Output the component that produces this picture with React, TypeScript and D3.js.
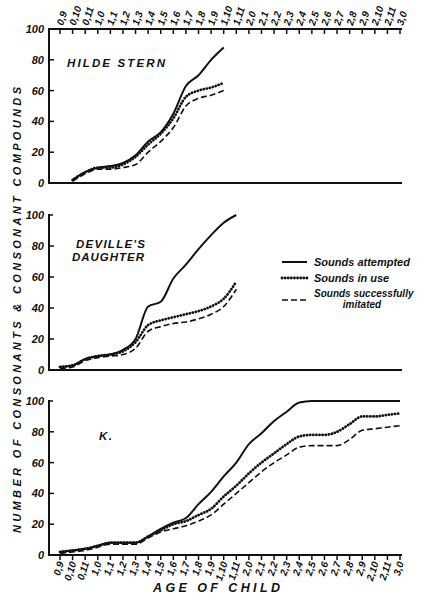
import React from "react";
import * as d3 from "d3";

const AGE_LABELS = ["0,9","0,10","0,11","1,0","1,1","1,2","1,3","1,4","1,5","1,6","1,7","1,8","1,9","1,10","1,11","2,0","2,1","2,2","2,3","2,4","2,5","2,6","2,7","2,8","2,9","2,10","2,11","3,0"];
const AGE_MONTHS = AGE_LABELS.map((l) => { const [y, m] = l.split(",").map(Number); return y * 12 + m; });
const Y_TICKS = [0, 20, 40, 60, 80, 100];

// Hilde Stern: months 10..22
const HILDE_MONTHS = [10,11,12,13,14,15,16,17,18,19,20,21,22];
const HILDE_ATTEMPTED = [2,7,10,11,13,18,27,33,45,63,70,80,88];
const HILDE_IN_USE = [2,7,10,10,12,17,25,32,42,56,60,62,65];
const HILDE_IMITATED = [1,6,9,9,10,12,20,27,36,50,55,57,60];

// Deville's daughter: months 9..23
const DEVILLE_MONTHS = [9,10,11,12,13,14,15,16,17,18,19,20,21,22,23];
const DEVILLE_ATTEMPTED = [2,3,7,9,10,13,20,41,44,59,68,78,87,95,100];
const DEVILLE_IN_USE = [2,3,7,9,10,12,18,29,32,34,36,38,41,46,57];
const DEVILLE_IMITATED = [1,2,6,8,9,10,14,25,28,30,31,33,36,41,52];

// K.: months 9..36
const K_MONTHS = [9,10,11,12,13,14,15,16,17,18,19,20,21,22,23,24,25,26,27,28,29,30,31,32,33,34,35,36];
const K_ATTEMPTED = [2,3,4,6,8,8,8,12,17,21,24,33,41,51,60,72,79,87,93,99,100,100,100,100,100,100,100,100];
const K_IN_USE = [2,3,4,6,8,8,8,12,16,20,22,26,30,38,45,53,60,66,72,77,78,78,80,85,90,90,91,92];
const K_IMITATED = [1,2,3,5,7,7,7,11,15,17,19,22,26,33,40,47,54,60,65,70,71,71,71,75,81,82,83,84];

const SERIES_NAMES = ["Sounds attempted", "Sounds in use", "Sounds successfully imitated"];

const FONT = "'Liberation Sans', Arial, sans-serif";
const INK = "#111";

const x = d3.scaleLinear().domain([9, 36]).range([60, 400]);
const AXIS_X = 49;
const AXIS_END = 402;

const STYLES = [
  { dash: "none", width: 2, cap: "butt" },
  { dash: "0.1 3", width: 2.8, cap: "round" },
  { dash: "6 3", width: 1.6, cap: "butt" },
];

type Panel = {
  label: string[];
  labelX: number;
  labelY: number;
  labelLen: number[];
  months: number[];
  series: number[][];
  range: [number, number];
};

const PANELS: Panel[] = [
  { label: ["HILDE STERN"], labelX: 67, labelY: 67, labelLen: [98], months: HILDE_MONTHS, series: [HILDE_ATTEMPTED, HILDE_IN_USE, HILDE_IMITATED], range: [183, 29] },
  { label: ["DEVILLE'S", "DAUGHTER"], labelX: 76, labelY: 248, labelLen: [69, 72], months: DEVILLE_MONTHS, series: [DEVILLE_ATTEMPTED, DEVILLE_IN_USE, DEVILLE_IMITATED], range: [370, 215] },
  { label: ["K."], labelX: 99, labelY: 440, labelLen: [13], months: K_MONTHS, series: [K_ATTEMPTED, K_IN_USE, K_IMITATED], range: [555, 401] },
];

export default function App() {
  const line = (months: number[], y: d3.ScaleLinear<number, number>) =>
    d3.line<number>().x((_, i) => x(months[i])).y((v) => y(v)).curve(d3.curveMonotoneX);

  return (
    <svg width={424} height={600} style={{ position: "absolute", left: 0, top: 0, background: "#fff" }}
      fontFamily={FONT} fontStyle="italic" fontWeight="bold" fill={INK}>
      <rect width={424} height={600} fill="#fff" />
      {PANELS.map((p, pi) => {
        const y = d3.scaleLinear().domain([0, 100]).range(p.range);
        return (
          <g key={pi}>
            <line x1={AXIS_X} x2={AXIS_X} y1={y(100) - 1} y2={y(0) + 1} stroke={INK} strokeWidth={2} />
            <line x1={AXIS_X - 1} x2={AXIS_END} y1={y(0)} y2={y(0)} stroke={INK} strokeWidth={2} />
            {Y_TICKS.map((t) => (
              <g key={t}>
                {t > 0 && t < 100 && <line x1={AXIS_X} x2={AXIS_X + 5} y1={y(t)} y2={y(t)} stroke={INK} strokeWidth={1.5} />}
                {t === 100 && pi > 0 && <line x1={AXIS_X} x2={AXIS_X + 4} y1={y(t)} y2={y(t)} stroke={INK} strokeWidth={1.5} />}
                <text x={44} y={y(t) + 4} textAnchor="end" fontSize={11}>{t}</text>
              </g>
            ))}
            {p.label.map((l, li) => (
              <text key={li} x={p.labelX + (li === 1 ? -4 : 0)} y={p.labelY + li * 13} fontSize={11.5}
                textLength={p.labelLen[li]} lengthAdjust="spacing">{l}</text>
            ))}
            {p.series.map((s, si) => (
              <path key={si} d={line(p.months, y)(s) || ""} fill="none" stroke={INK}
                strokeWidth={STYLES[si].width} strokeDasharray={STYLES[si].dash}
                strokeLinecap={STYLES[si].cap as any} strokeLinejoin="round" />
            ))}
          </g>
        );
      })}
      <line x1={AXIS_X - 1} x2={AXIS_END} y1={29} y2={29} stroke={INK} strokeWidth={2} />
      {AGE_MONTHS.map((m, i) => (
        <g key={"t" + i}>
          <line x1={x(m)} x2={x(m)} y1={29} y2={34} stroke={INK} strokeWidth={1.5} />
          <text transform={`translate(${x(m) + 3},26) rotate(-72)`} fontSize={10}>{AGE_LABELS[i]}</text>
        </g>
      ))}
      {AGE_MONTHS.map((m, i) => (
        <g key={"b" + i}>
          <line x1={x(m)} x2={x(m)} y1={555} y2={560} stroke={INK} strokeWidth={1.5} />
          <text transform={`translate(${x(m) + 4},563) rotate(-72)`} textAnchor="end" fontSize={10}>{AGE_LABELS[i]}</text>
        </g>
      ))}
      <text x={153} y={592} fontSize={12.5} textLength={127} lengthAdjust="spacing">AGE   OF   CHILD</text>
      <text transform="translate(21,533) rotate(-90)" fontSize={11} textLength={446} lengthAdjust="spacing">
        NUMBER  OF  CONSONANTS  &amp;  CONSONANT  COMPOUNDS
      </text>
      {SERIES_NAMES.map((n, i) => {
        const ly = [262, 278, 300][i];
        return (
          <g key={"l" + i}>
            <line x1={282} x2={307} y1={ly} y2={ly} stroke={INK} strokeWidth={STYLES[i].width}
              strokeDasharray={STYLES[i].dash} strokeLinecap={STYLES[i].cap as any} />
            {i < 2 ? (
              <text x={314} y={ly + 4} fontSize={11}>{n}</text>
            ) : (
              <>
                <text x={314} y={ly - 3} fontSize={10}>Sounds successfully</text>
                <text x={362} y={ly + 8} fontSize={10} textAnchor="middle">imitated</text>
              </>
            )}
          </g>
        );
      })}
    </svg>
  );
}
